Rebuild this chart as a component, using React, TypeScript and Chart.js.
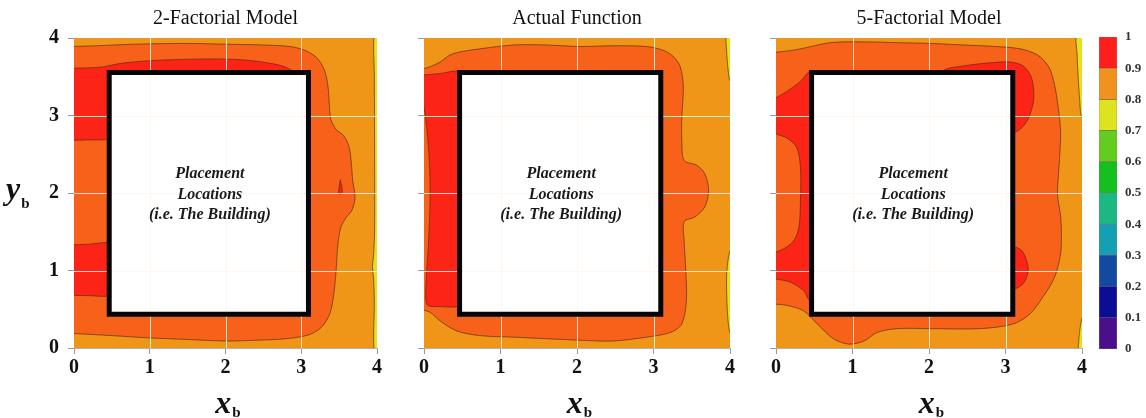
import React, { useEffect, useRef } from 'react';
import { Chart, registerables } from 'chart.js';

Chart.register(...registerables);

type Pt = [number, number];

// ---------- axes / labels ----------
const AXIS_MIN = 0;
const AXIS_MAX = 4;
const AXIS_STEP = 1;
const PANEL_TITLES = ['2-Factorial Model', 'Actual Function', '5-Factorial Model'];
const BUILDING_LABEL = ['Placement', 'Locations', '(i.e. The Building)'];
const X_TITLE = ['x', 'b'];
const Y_TITLE = ['y', 'b'];

// building footprint (x range, y range) in xb / yb units
const BUILDING_X: [number, number] = [0.465, 3.095];
const BUILDING_Y: [number, number] = [0.435, 3.555];

// ---------- colour scale ----------
const COLORBAR_BOUNDS = [0, 0.1, 0.2, 0.3, 0.4, 0.5, 0.6, 0.7, 0.8, 0.9, 1];
const COLORBAR_COLORS = [
  '#4a108c', '#0d0c94', '#1449a2', '#13a0b2', '#1bb883',
  '#13c01d', '#63cc1f', '#dde41d', '#f0921d', '#fd1f1c',
];
const FILL_08 = '#ef9518'; // 0.8 - 0.9 field
const FILL_09 = '#f7611a'; // upper 0.9 band
const FILL_095 = '#fb2417'; // peak
const FILL_07 = '#e3e21e'; // 0.7 - 0.8
const CONTOUR_LINE = 'rgba(95,40,12,0.85)';

const FULL_FIELD: Pt[] = [[-0.1, -0.1], [4.1, -0.1], [4.1, 4.1], [-0.1, 4.1]];

// ---------- 2-Factorial model contours ----------
const F2_HIGH: Pt[] = [
  [-0.05, 3.89], [0.3, 3.9], [0.8, 3.92], [1.5, 3.93], [2.0, 3.92], [2.5, 3.91], [2.85, 3.89],
  [3.05, 3.84], [3.2, 3.75], [3.3, 3.6], [3.35, 3.4], [3.37, 3.15], [3.39, 2.95], [3.46, 2.82],
  [3.56, 2.74], [3.63, 2.6], [3.66, 2.4], [3.68, 2.15], [3.71, 1.95], [3.67, 1.78], [3.59, 1.68],
  [3.52, 1.55], [3.48, 1.3], [3.46, 1.0], [3.43, 0.7], [3.38, 0.45], [3.27, 0.27], [3.1, 0.17],
  [2.8, 0.12], [2.4, 0.1], [2.0, 0.09], [1.5, 0.11], [1.0, 0.13], [0.5, 0.16], [-0.05, 0.19],
];
const F2_PEAK_TOP: Pt[] = [
  [-0.05, 3.61], [0.2, 3.615], [0.4, 3.63], [0.6, 3.67], [0.9, 3.7], [1.3, 3.72], [1.8, 3.73],
  [2.2, 3.72], [2.55, 3.68], [2.8, 3.62], [2.95, 3.5], [2.8, 3.3], [0.8, 3.3], [0.7, 2.75],
  [0.45, 2.69], [0.2, 2.685], [-0.05, 2.68],
];
const F2_PEAK_LOW: Pt[] = [
  [-0.05, 1.33], [0.2, 1.34], [0.45, 1.36], [0.7, 1.3], [0.7, 0.75], [0.45, 0.67],
  [0.2, 0.675], [-0.05, 0.68],
];
const F2_PEAK_DOT: Pt[] = [
  [3.515, 2.17], [3.535, 2.08], [3.54, 2.01], [3.52, 1.985], [3.495, 2.0], [3.5, 2.08], [3.515, 2.17],
];
const F2_LOW: Pt[] = [
  [4.05, 4.05], [3.965, 4.05], [3.965, 3.5], [3.968, 2.5], [3.968, 1.5], [3.955, 1.2],
  [3.94, 1.05], [3.955, 0.9], [3.965, 0.6], [3.965, -0.05], [4.05, -0.05],
];

// ---------- Actual function contours ----------
const A_HIGH: Pt[] = [
  [-0.05, 3.59], [0.08, 3.63], [0.21, 3.69], [0.34, 3.78], [0.47, 3.82], [0.73, 3.86], [1.17, 3.91],
  [1.6, 3.91], [2.04, 3.89], [2.47, 3.9], [2.91, 3.89], [3.13, 3.84], [3.26, 3.76], [3.35, 3.63],
  [3.39, 3.37], [3.37, 2.98], [3.37, 2.68], [3.4, 2.42], [3.56, 2.36], [3.67, 2.25], [3.72, 2.03],
  [3.67, 1.82], [3.54, 1.69], [3.4, 1.63], [3.4, 1.39], [3.42, 1.04], [3.43, 0.61], [3.37, 0.31],
  [3.22, 0.2], [2.91, 0.14], [2.47, 0.09], [2.04, 0.1], [1.6, 0.12], [1.17, 0.14], [0.73, 0.16],
  [0.43, 0.22], [0.21, 0.35], [0.08, 0.46], [-0.05, 0.5],
];
const A_PEAK: Pt[] = [
  [-0.05, 3.52], [0.2, 3.54], [0.46, 3.565], [0.75, 3.35], [0.75, 0.7], [0.46, 0.54], [0.2, 0.535],
  [0.04, 0.56], [0.03, 0.9], [0.05, 1.2], [0.07, 1.6], [0.08, 2.0], [0.07, 2.4], [0.04, 2.8],
  [0.0, 3.1], [-0.05, 3.3],
];
const A_LOW_TOP: Pt[] = [
  [4.05, 4.05], [3.955, 4.05], [3.955, 3.85], [3.965, 3.7], [3.98, 3.55], [4.0, 3.45], [4.05, 3.4],
];
const A_LOW_BOTTOM: Pt[] = [
  [4.05, 1.3], [4.0, 1.25], [3.97, 1.1], [3.955, 0.9], [3.96, 0.6], [3.975, 0.35], [4.0, 0.2], [4.05, 0.15],
];

// ---------- 5-Factorial model contours ----------
const F5_HIGH: Pt[] = [
  [-0.05, 3.81], [0.27, 3.85], [0.71, 3.94], [1.14, 3.95], [1.58, 3.94], [2.01, 3.93], [2.45, 3.91],
  [2.88, 3.89], [3.19, 3.86], [3.42, 3.78], [3.57, 3.62], [3.64, 3.4], [3.69, 3.1], [3.72, 2.8],
  [3.71, 2.5], [3.69, 2.2], [3.68, 1.98], [3.72, 1.7], [3.73, 1.5], [3.72, 1.21], [3.64, 0.91],
  [3.49, 0.66], [3.32, 0.44], [3.1, 0.31], [2.67, 0.25], [2.01, 0.25], [1.58, 0.25], [1.32, 0.2],
  [1.15, 0.09], [0.95, 0.05], [0.75, 0.12], [0.55, 0.3], [0.36, 0.48], [0.14, 0.55], [-0.05, 0.57],
];
const F5_PEAK_LEFT: Pt[] = [
  [-0.05, 3.2], [0.14, 3.31], [0.32, 3.44], [0.46, 3.57], [0.75, 3.3], [0.75, 0.7], [0.46, 0.6],
  [0.36, 0.74], [0.19, 0.85], [0, 0.89], [-0.05, 0.9], [-0.05, 1.24], [0, 1.24], [0.1, 1.28],
  [0.23, 1.38], [0.3, 1.56], [0.32, 1.9], [0.32, 2.33], [0.27, 2.59], [0.14, 2.71], [0, 2.76],
  [-0.05, 2.77],
];
const F5_PEAK_TOP_RIGHT: Pt[] = [
  [2.1, 3.4], [2.19, 3.58], [2.45, 3.64], [2.8, 3.68], [3.06, 3.69], [3.23, 3.64], [3.34, 3.49],
  [3.37, 3.23], [3.32, 3.01], [3.23, 2.86], [3.1, 2.78], [2.9, 2.9], [2.8, 3.3],
];
const F5_PEAK_BOTTOM_RIGHT: Pt[] = [
  [2.9, 1.2], [3.1, 1.3], [3.21, 1.26], [3.29, 1.08], [3.29, 0.96], [3.23, 0.83], [3.1, 0.76], [2.9, 0.85],
];
const F5_LOW_TOP: Pt[] = [
  [4.05, 4.05], [3.93, 4.05], [3.935, 3.8], [3.95, 3.5], [3.97, 3.2], [3.99, 3.0], [4.05, 2.9],
];
const F5_LOW_BOTTOM: Pt[] = [
  [4.05, 0.45], [4.0, 0.38], [3.97, 0.22], [3.955, 0.05], [3.955, -0.05], [4.05, -0.05],
];

// ---------- layout ----------
const SERIF = "'Liberation Serif', 'DejaVu Serif', 'Times New Roman', serif";
const CANVAS_H = 418;

type PanelSpec = {
  title: string;
  high: Pt[];
  peak: Pt[][];
  low: Pt[][];
  left: number;
  width: number;
  yWidth: number;
  padRight: number;
  showY: boolean;
};

const PANELS: PanelSpec[] = [
  { title: PANEL_TITLES[0], high: F2_HIGH, peak: [F2_PEAK_TOP, F2_PEAK_LOW, F2_PEAK_DOT], low: [F2_LOW],
    left: 0, width: 390, yWidth: 74, padRight: 13, showY: true },
  { title: PANEL_TITLES[1], high: A_HIGH, peak: [A_PEAK], low: [A_LOW_TOP, A_LOW_BOTTOM],
    left: 390, width: 360, yWidth: 34, padRight: 20, showY: false },
  { title: PANEL_TITLES[2], high: F5_HIGH, peak: [F5_PEAK_LEFT, F5_PEAK_TOP_RIGHT, F5_PEAK_BOTTOM_RIGHT],
    low: [F5_LOW_TOP, F5_LOW_BOTTOM], left: 750, width: 345, yWidth: 26, padRight: 13, showY: false },
];

function polygon(points: Pt[], color: string, order: number, line = true) {
  return {
    data: points.map(([x, y]) => ({ x, y })),
    showLine: true,
    fill: 'shape',
    backgroundColor: color,
    borderColor: line ? CONTOUR_LINE : 'rgba(0,0,0,0)',
    borderWidth: line ? 0.8 : 0,
    pointRadius: 0,
    tension: 0.3,
    order,
  };
}

function buildingDataset() {
  const [x0, x1] = BUILDING_X;
  const [y0, y1] = BUILDING_Y;
  const pts: Pt[] = [[x0, y1], [x1, y1], [x1, y0], [x0, y0], [x0, y1], [x1, y1]];
  return {
    role: 'building',
    data: pts.map(([x, y]) => ({ x, y })),
    showLine: true,
    fill: 'shape',
    backgroundColor: '#ffffff',
    borderColor: '#050505',
    borderWidth: 5,
    borderJoinStyle: 'miter',
    pointRadius: 0,
    tension: 0,
    order: 1,
  };
}

function drawSub(ctx: CanvasRenderingContext2D, main: string, sub: string, cx: number | null,
  left: number, baseline: number, mainSize: number, subSize: number, subDrop: number) {
  ctx.font = `italic bold ${mainSize}px ${SERIF}`;
  const w1 = ctx.measureText(main).width;
  ctx.font = `bold ${subSize}px ${SERIF}`;
  const w2 = ctx.measureText(sub).width;
  const x0 = cx !== null ? cx - (w1 + w2) / 2 : left;
  ctx.fillStyle = '#111';
  ctx.textAlign = 'left';
  ctx.textBaseline = 'alphabetic';
  ctx.font = `italic bold ${mainSize}px ${SERIF}`;
  ctx.fillText(main, x0, baseline);
  ctx.font = `bold ${subSize}px ${SERIF}`;
  ctx.fillText(sub, x0 + w1 + 1, baseline + subDrop);
}

function decorPlugin(showYTitle: boolean) {
  return {
    id: 'panelDecor',
    beforeDatasetDraw(chart: any, args: any) {
      const ds = chart.data.datasets[args.index];
      if (ds.role !== 'building') return;
      const { ctx, chartArea: a, scales } = chart;
      ctx.save();
      ctx.strokeStyle = 'rgba(255,245,235,0.85)';
      ctx.lineWidth = 1;
      const inner = (s: any) => s.ticks.map((t: any) => t.value).filter((v: number) => v > s.min && v < s.max);
      for (const v of inner(scales.x)) {
        const px = Math.round(scales.x.getPixelForValue(v)) + 0.5;
        ctx.beginPath(); ctx.moveTo(px, a.top); ctx.lineTo(px, a.bottom); ctx.stroke();
      }
      for (const v of inner(scales.y)) {
        const py = Math.round(scales.y.getPixelForValue(v)) + 0.5;
        ctx.beginPath(); ctx.moveTo(a.left, py); ctx.lineTo(a.right, py); ctx.stroke();
      }
      ctx.restore();
    },
    afterDatasetsDraw(chart: any) {
      const { ctx, scales } = chart;
      const cx = scales.x.getPixelForValue((BUILDING_X[0] + BUILDING_X[1]) / 2) + 1;
      const cy = scales.y.getPixelForValue((BUILDING_Y[0] + BUILDING_Y[1]) / 2) + 1;
      ctx.save();
      ctx.font = `italic bold 16px ${SERIF}`;
      ctx.fillStyle = '#1a1a1a';
      ctx.textAlign = 'center';
      ctx.textBaseline = 'middle';
      BUILDING_LABEL.forEach((t, i) => ctx.fillText(t, cx, cy + (i - 1) * 20.5));
      ctx.restore();
    },
    afterDraw(chart: any) {
      const { ctx, chartArea: a } = chart;
      ctx.save();
      drawSub(ctx, X_TITLE[0], X_TITLE[1], (a.left + a.right) / 2 + 2, 0, a.bottom + 65, 32, 15, 4);
      if (showYTitle) {
        drawSub(ctx, Y_TITLE[0], Y_TITLE[1], null, 6, (a.top + a.bottom) / 2 + 6, 32, 15, 9);
      }
      ctx.restore();
    },
  };
}

function panelConfig(p: PanelSpec): any {
  const datasets = [
    polygon(FULL_FIELD, FILL_08, 10, false),
    polygon(p.high, FILL_09, 9),
    ...p.peak.map((pts) => polygon(pts, FILL_095, 8)),
    ...p.low.map((pts) => polygon(pts, FILL_07, 8)),
    buildingDataset(),
  ];
  const tickFont = { family: SERIF, size: 20, weight: 'bold' as const };
  return {
    type: 'scatter',
    data: { datasets },
    options: {
      animation: false,
      responsive: false,
      events: [],
      layout: { padding: { left: 0, right: p.padRight, top: 0, bottom: 0 } },
      plugins: {
        legend: { display: false },
        tooltip: { enabled: false },
        title: {
          display: true,
          text: p.title,
          fullSize: false,
          color: '#111',
          font: { family: SERIF, size: 20, weight: 'normal' },
          padding: { top: 7, bottom: 7 },
        },
      },
      scales: {
        x: {
          type: 'linear', min: AXIS_MIN, max: AXIS_MAX,
          ticks: { stepSize: AXIS_STEP, font: tickFont, color: '#111', padding: 2, autoSkip: false, maxRotation: 0 },
          grid: { drawOnChartArea: false, tickLength: 6, tickColor: '#9a9a9a' },
          border: { color: '#b0b0b0', width: 1 },
          afterFit: (s: any) => { s.height = 70; },
        },
        y: {
          type: 'linear', min: AXIS_MIN, max: AXIS_MAX,
          ticks: { stepSize: AXIS_STEP, font: tickFont, color: '#111', padding: 9, display: p.showY, autoSkip: false },
          grid: { drawOnChartArea: false, tickLength: 6, tickColor: '#9a9a9a' },
          border: { color: '#b0b0b0', width: 1 },
          afterFit: (s: any) => { s.width = p.yWidth; },
        },
      },
    },
    plugins: [decorPlugin(p.showY)],
  };
}

function colorbarConfig(): any {
  const datasets = COLORBAR_COLORS.map((c, i) => ({
    data: [[COLORBAR_BOUNDS[i], COLORBAR_BOUNDS[i + 1]]],
    backgroundColor: c,
    borderColor: 'rgba(40,30,30,0.55)',
    borderWidth: 0.6,
    borderSkipped: false,
    barPercentage: 1,
    categoryPercentage: 1,
  }));
  return {
    type: 'bar',
    data: { labels: [''], datasets },
    options: {
      animation: false,
      responsive: false,
      events: [],
      layout: { padding: { left: 9, right: 0, top: 37, bottom: 69 } },
      plugins: { legend: { display: false }, tooltip: { enabled: false }, title: { display: false } },
      scales: {
        x: { display: false, stacked: true },
        y: {
          position: 'right', min: 0, max: 1,
          ticks: {
            stepSize: 0.1, autoSkip: false, padding: 8, color: '#333',
            font: { family: SERIF, size: 13, weight: 'bold' },
            callback: (v: any) => String(Math.round(Number(v) * 10) / 10),
          },
          grid: { display: false, drawTicks: false },
          border: { display: false },
          afterFit: (s: any) => { s.width = 29; },
        },
      },
    },
  };
}

function ChartCanvas({ left, width, make }: { left: number; width: number; make: () => any }) {
  const ref = useRef<HTMLCanvasElement>(null);
  useEffect(() => {
    const chart = new Chart(ref.current as HTMLCanvasElement, make());
    return () => chart.destroy();
  }, []);
  return (
    <canvas
      ref={ref}
      width={width}
      height={CANVAS_H}
      style={{ position: 'absolute', left, top: 0, width, height: CANVAS_H, display: 'block' }}
    />
  );
}

export default function App() {
  return (
    <div style={{ position: 'absolute', left: 0, top: 0, width: 1146, height: CANVAS_H, background: '#fff' }}>
      {PANELS.map((p) => (
        <ChartCanvas key={p.title} left={p.left} width={p.width} make={() => panelConfig(p)} />
      ))}
      <ChartCanvas left={1090} width={56} make={colorbarConfig} />
    </div>
  );
}
